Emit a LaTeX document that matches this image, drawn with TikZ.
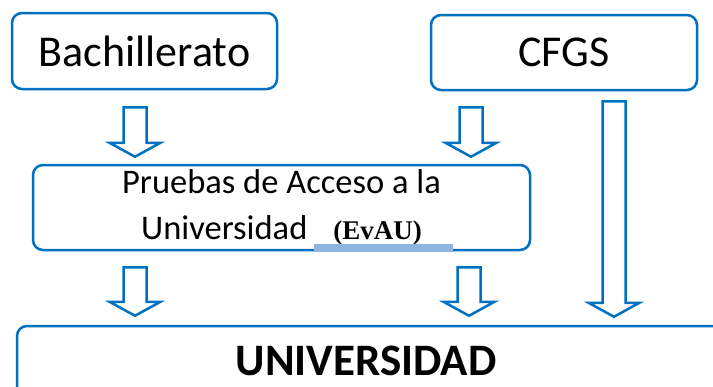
\documentclass[tikz,border=0pt]{standalone}
\usepackage{fontspec}
\setmainfont{Carlito}
\newfontfamily\timesfont{Liberation Serif}
\usepackage{tikz}
\usetikzlibrary{calc}

\definecolor{boxblue}{RGB}{0,112,192}
\definecolor{barblue}{RGB}{141,180,226}

\tikzset{
  stagebox/.style={draw=boxblue, line width=2.5pt, rounded corners=10pt, align=center},
  blockarrow/.style={draw=boxblue, line width=2.5pt, line join=miter}
}

% block arrow at x=#1 from node #2 down to node #3, gaps #4 (top) and #5 (tip)
\newcommand{\blockdown}[5]{%
  \draw[blockarrow] let \p1=(#2.south), \p2=(#3.north) in
    (#1pt-11.5pt,\y1-#4pt) -- (#1pt+11.5pt,\y1-#4pt) -- (#1pt+11.5pt,\y2+#5pt+14pt)
    -- (#1pt+25.5pt,\y2+#5pt+14pt) -- (#1pt,\y2+#5pt) -- (#1pt-25.5pt,\y2+#5pt+14pt)
    -- (#1pt-11.5pt,\y2+#5pt+14pt) -- cycle;}

\begin{document}
\begin{tikzpicture}[x=1pt, y=-1pt]
  \useasboundingbox (0,0) rectangle (713,386);
  \clip (0,0) rectangle (713,386);

  \node[stagebox, minimum width=265pt, minimum height=76pt, font=\fontsize{44}{52}\selectfont]
    (bach) at (144.5,51) {Bachillerato};
  \node[stagebox, minimum width=266pt, minimum height=75pt, font=\fontsize{44}{52}\selectfont]
    (cfgs) at (564,52.5) {CFGS};
  \node[stagebox, minimum width=497pt, minimum height=85pt, font=\fontsize{34.5}{46}\selectfont]
    (pau) at (281.5,207.5) {\raisebox{-2pt}{Pruebas de Acceso a la}\\
      \raisebox{-2pt}{Universidad\hspace{26pt}{\timesfont\bfseries\fontsize{27}{30}\selectfont(EvAU)}}};
  \fill[barblue] (314,244) rectangle (453,252);

  \node[stagebox, minimum width=723pt, minimum height=94pt] (univ) at (378.5,373) {};
  \node[font=\bfseries\fontsize{45}{52}\selectfont] (univtext) at (366,361) {UNIVERSIDAD};

  \blockdown{135}{bach}{pau}{17}{7}
  \blockdown{471}{cfgs}{pau}{16}{7}
  \blockdown{135}{pau}{univ}{16}{9}
  \blockdown{469}{pau}{univ}{16}{9}
  \blockdown{614}{cfgs}{univ}{10}{8}
\end{tikzpicture}
\end{document}
